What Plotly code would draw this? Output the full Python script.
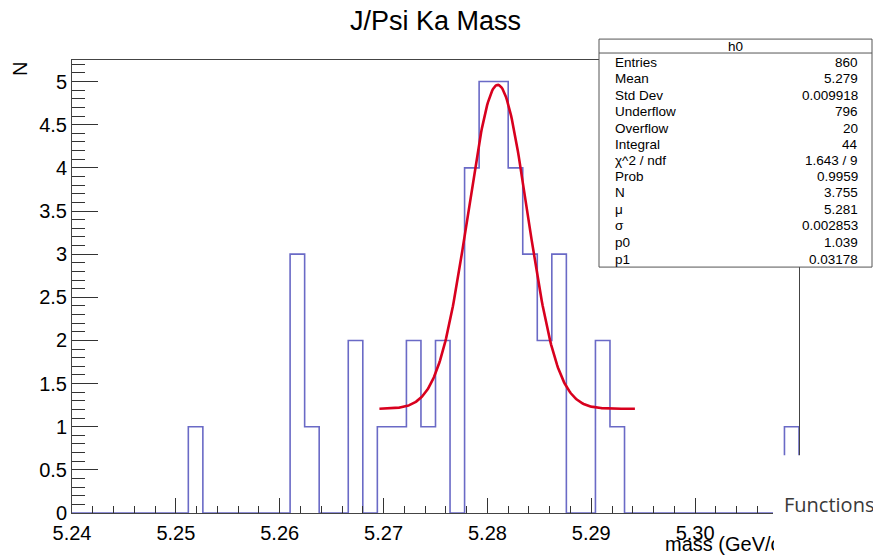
import numpy as np
import plotly.graph_objects as go

# ---------------- data ----------------
x_min, x_max = 5.24, 5.31
n_bins = 50
counts = [0, 0, 0, 0, 0, 0, 0, 0, 1, 0,
          0, 0, 0, 0, 0, 3, 1, 0, 0, 2,
          0, 1, 1, 2, 1, 2, 0, 4, 5, 5,
          4, 3, 2, 3, 0, 0, 2, 1, 0, 0,
          0, 0, 0, 0, 0, 0, 0, 0, 0, 1]

# fit: gaus + pol1, parameters as printed in the stats box
fit_N, fit_mu, fit_sigma, fit_p0, fit_p1 = 3.755, 5.281, 0.002853, 1.039, 0.03178
fit_range = [5.2696, 5.2942]

stat_labels = ["Entries", "Mean", "Std Dev", "Underflow", "Overflow", "Integral",
               "χ^2 / ndf", "Prob", "N", "μ", "σ", "p0", "p1"]
stat_values = ["860", "5.279", "0.009918", "796", "20", "44",
               "1.643 / 9", "0.9959", "3.755", "5.281", "0.002853", "1.039", "0.03178"]
stat_rows_y = [63, 79, 96, 112, 129, 145, 161, 177, 193, 210, 226, 243, 260]

# ---------------- geometry helpers ----------------
W, H = 873, 556
L, R, T, B = 72, 799, 60, 515


def px(x):
    return (x - L) / (R - L)


def py(y):
    return (B - y) / (B - T)


FONT = "Liberation Sans, Arial, sans-serif"
UIFONT = "Open Sans, Noto Sans, sans-serif"

# ---------------- traces ----------------
edges = np.linspace(x_min, x_max, n_bins + 1)
hx = list(edges) + [x_max]
hy = list(counts) + [counts[-1], 0]

fig = go.Figure()
fig.add_trace(go.Scatter(x=hx, y=hy, mode="lines", line_shape="hv",
                         line=dict(color="#6a6ac6", width=1.6),
                         hoverinfo="skip", cliponaxis=False))

fx = np.linspace(fit_range[0], fit_range[1], 300)
fy = fit_N * np.exp(-0.5 * ((fx - fit_mu) / fit_sigma) ** 2) + fit_p0 + fit_p1 * fx
fig.add_trace(go.Scatter(x=fx, y=fy, mode="lines",
                         line=dict(color="#d8001e", width=2.6), hoverinfo="skip"))

# ---------------- axes ----------------
fig.update_xaxes(range=[x_min, x_max], tick0=5.24, dtick=0.01, tickformat=".2f",
                 ticks="inside", ticklen=15, tickwidth=1, tickcolor="#333",
                 showline=True, linecolor="#444", linewidth=1, mirror=True,
                 showgrid=False, zeroline=False, ticklabelstandoff=2,
                 minor=dict(dtick=0.002, ticks="inside", ticklen=7, tickcolor="#333",
                            showgrid=False),
                 tickfont=dict(family=FONT, size=20, color="black"))
fig.update_yaxes(range=[0, 5.25], tick0=0, dtick=0.5,
                 ticks="inside", ticklen=26, tickwidth=1, tickcolor="#333",
                 showline=True, linecolor="#444", linewidth=1, mirror=True,
                 showgrid=False, zeroline=False,
                 minor=dict(dtick=0.1, ticks="inside", ticklen=13, tickcolor="#333",
                            showgrid=False),
                 tickfont=dict(family=FONT, size=20, color="black"))

shapes = []
annotations = []

# stats box
shapes.append(dict(type="rect", xref="paper", yref="paper",
                   x0=px(599), x1=px(872), y0=py(268), y1=py(39),
                   line=dict(color="#555", width=1), fillcolor="white", layer="above"))
shapes.append(dict(type="line", xref="paper", yref="paper",
                   x0=px(599), x1=px(872), y0=py(53), y1=py(53),
                   line=dict(color="#555", width=1), layer="above"))
annotations.append(dict(text="h0", x=px(735), y=py(46), xref="paper", yref="paper",
                        showarrow=False, xanchor="center", yanchor="middle",
                        font=dict(family=FONT, size=13.5, color="black")))
for lab, val, yy in zip(stat_labels, stat_values, stat_rows_y):
    annotations.append(dict(text=lab, x=px(613), y=py(yy), xref="paper", yref="paper",
                            showarrow=False, xanchor="left", yanchor="middle",
                            font=dict(family=FONT, size=13.5, color="black")))
    annotations.append(dict(text=val, x=px(860), y=py(yy), xref="paper", yref="paper",
                            showarrow=False, xanchor="right", yanchor="middle",
                            font=dict(family=FONT, size=13.5, color="black")))

# title and axis titles
annotations.append(dict(text="J/Psi Ka Mass", x=px(435), y=py(21), xref="paper", yref="paper",
                        showarrow=False, xanchor="center", yanchor="middle",
                        font=dict(family=FONT, size=27, color="black")))
annotations.append(dict(text="N", x=px(20), y=py(69), xref="paper", yref="paper",
                        showarrow=False, xanchor="center", yanchor="middle", textangle=-90,
                        font=dict(family=FONT, size=20, color="black")))
# x title, clipped on the right where another window overlaps the canvas
annotations.append(dict(text="mass (GeV/c<sup>2</sup>)", x=px(664), y=py(545),
                        xref="paper", yref="paper", width=109, align="left",
                        showarrow=False, xanchor="left", yanchor="middle", borderpad=0,
                        font=dict(family=FONT, size=20, color="black")))

# overlapping window in the bottom-right corner
shapes.append(dict(type="rect", xref="paper", yref="paper",
                   x0=px(773), x1=px(880), y0=py(560), y1=py(457),
                   line=dict(width=0), fillcolor="white", layer="above"))
annotations.append(dict(text="Functions", x=px(782), y=py(506), xref="paper", yref="paper",
                        showarrow=False, xanchor="left", yanchor="middle",
                        font=dict(family=UIFONT, size=20, color="#3a3a3a")))
annotations.append(dict(text="New", x=px(816), y=py(551), xref="paper", yref="paper",
                        showarrow=False, xanchor="left", yanchor="top",
                        font=dict(family=UIFONT, size=20, color="#3a3a3a")))

fig.update_layout(width=W, height=H,
                  margin=dict(l=L, r=W - R, t=T, b=H - B, pad=0),
                  paper_bgcolor="white", plot_bgcolor="white", showlegend=False,
                  shapes=shapes, annotations=annotations)

fig.write_html("out.html")
